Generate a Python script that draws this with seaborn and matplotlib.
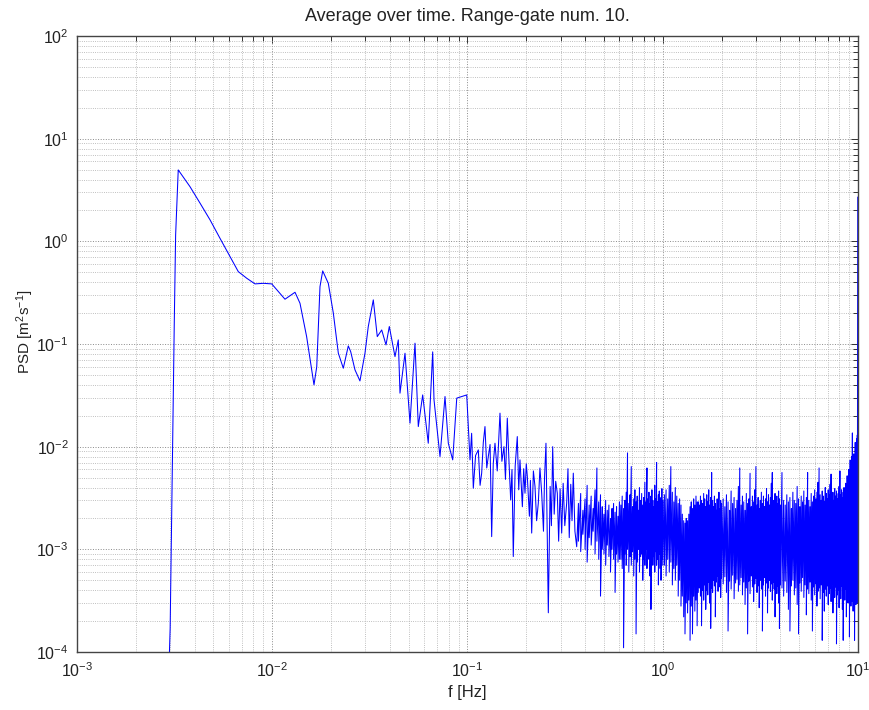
import numpy as np
import pandas as pd
import matplotlib
matplotlib.use("Agg")
import matplotlib.pyplot as plt
import seaborn as sns
from matplotlib.ticker import FixedLocator, NullFormatter

# ---- low-frequency (resolved) part of the averaged spectrum ----
freq_hz = [0.0029, 0.0030, 0.00315, 0.0032, 0.0033, 0.00379, 0.00427, 0.0048, 0.0054, 0.00608,
           0.0067, 0.0074, 0.00816, 0.0090, 0.00994, 0.01162, 0.01308, 0.01387, 0.0150, 0.01636,
           0.0169, 0.01756, 0.01813, 0.01937, 0.02055, 0.0218, 0.02312, 0.02452, 0.02522, 0.02653,
           0.02813, 0.02985, 0.03103, 0.03293, 0.03451, 0.03636, 0.03825, 0.03977, 0.04253, 0.04422,
           0.04511, 0.04786, 0.05076, 0.05384, 0.05598, 0.05895, 0.06296, 0.06634, 0.06737, 0.07231,
           0.07671, 0.07975, 0.0840, 0.0881, 0.0934, 0.0991,
           0.1030, 0.1050, 0.1071, 0.1100, 0.1136, 0.1160, 0.1182, 0.1205, 0.1229, 0.1255,
           0.1278, 0.1305, 0.1330, 0.1355, 0.1383, 0.1420, 0.1467, 0.1500, 0.1538, 0.1565,
           0.1599, 0.1630, 0.1664, 0.1690, 0.1716, 0.1755, 0.1799, 0.1830, 0.1857, 0.1910,
           0.1940, 0.1970, 0.2000, 0.2025, 0.2075, 0.2100, 0.2132, 0.2175, 0.2217, 0.2260,
           0.2305, 0.2350, 0.2399, 0.2450, 0.2480, 0.2523, 0.2594, 0.2650, 0.2690, 0.2731,
           0.2780, 0.2830, 0.2884, 0.2930, 0.2980, 0.3037, 0.3090, 0.3150, 0.3221, 0.3270,
           0.3320, 0.3380, 0.3430, 0.3482, 0.3550, 0.3625]
psd_m2s = [2e-5, 1.7e-4, 0.165, 1.15, 4.96, 3.41, 2.35, 1.62, 1.07, 0.71,
           0.507, 0.437, 0.385, 0.39, 0.385, 0.273, 0.319, 0.2495, 0.118, 0.040,
           0.060, 0.362, 0.515, 0.39, 0.20, 0.0813, 0.0581, 0.0958, 0.0843, 0.056,
           0.0437, 0.0813, 0.1477, 0.269, 0.118, 0.137, 0.098, 0.148, 0.0754, 0.1096,
           0.0332, 0.0813, 0.01694, 0.1018, 0.0157, 0.0319, 0.0108, 0.0838, 0.0286, 0.00801,
           0.0308, 0.0108, 0.00744, 0.0297, 0.0308, 0.0319,
           0.00744, 0.0135, 0.00394, 0.0082, 0.0093, 0.0042, 0.00552, 0.0110, 0.0157, 0.0062,
           0.00801, 0.0105, 0.00133, 0.0068, 0.0108, 0.0058, 0.0212, 0.0072, 0.0100, 0.0048,
           0.01895, 0.0074, 0.00303, 0.0060, 0.000851, 0.0065, 0.01254, 0.0038, 0.00744, 0.0026,
           0.0061, 0.00352, 0.0068, 0.00512, 0.0021, 0.0047, 0.00144, 0.0058, 0.00409, 0.0019,
           0.00282, 0.0062, 0.00352, 0.0015, 0.0049, 0.0108, 0.000241, 0.0041, 0.0017, 0.0100,
           0.0022, 0.0046, 0.00352, 0.0012, 0.0039, 0.00144, 0.0044, 0.0017, 0.00282, 0.0061,
           0.0013, 0.0043, 0.0019, 0.00552, 0.0015, 0.00106]

# ---- high-frequency noisy band: frequency, local maximum, local minimum (units of 1e-4 m^2 s^-1) ----
band_freq_hz = [0.37, 0.38, 0.39, 0.40, 0.41, 0.42, 0.43, 0.44, 0.45, 0.46, 0.47, 0.48, 0.49, 0.50, 0.51,
                0.52, 0.53, 0.54, 0.55, 0.56, 0.57, 0.58, 0.59, 0.60,
                0.61, 0.62, 0.63, 0.64, 0.65, 0.66, 0.67, 0.68, 0.69, 0.70, 0.71, 0.72, 0.73, 0.74, 0.75,
                0.76, 0.77, 0.78, 0.79, 0.80, 0.81, 0.82, 0.83, 0.84, 0.85, 0.86, 0.87, 0.88, 0.89, 0.90,
                0.91, 0.92, 0.93, 0.94, 0.95, 0.96, 0.97, 0.98, 0.99, 1.00,
                1.02, 1.04, 1.06, 1.08, 1.10, 1.12, 1.14, 1.16, 1.18, 1.20, 1.22, 1.24, 1.26, 1.28, 1.30,
                1.32, 1.34, 1.36, 1.38, 1.40, 1.42, 1.44, 1.46, 1.48, 1.50, 1.52, 1.54, 1.56, 1.58, 1.60,
                1.62, 1.64, 1.66, 1.68, 1.70, 1.72, 1.74, 1.76, 1.78, 1.80, 1.82, 1.84, 1.86, 1.88, 1.90,
                1.92, 1.94, 1.96, 1.98, 2.00,
                2.04, 2.08, 2.12, 2.16, 2.20, 2.24, 2.28, 2.32, 2.36, 2.40, 2.44, 2.48, 2.52, 2.56, 2.60,
                2.64, 2.68, 2.72, 2.76, 2.80, 2.84, 2.88, 2.92, 2.96, 3.00, 3.04, 3.08, 3.12, 3.16, 3.20,
                3.24, 3.28, 3.32, 3.36, 3.40, 3.44, 3.48, 3.52, 3.56, 3.60, 3.64, 3.68, 3.72, 3.76, 3.80,
                3.84, 3.88, 3.92, 3.96, 4.00,
                4.08, 4.16, 4.24, 4.32, 4.40, 4.48, 4.56, 4.64, 4.72, 4.80, 4.88, 4.96, 5.04, 5.12, 5.20,
                5.28, 5.36, 5.44, 5.52, 5.60, 5.68, 5.76, 5.84, 5.92, 6.00, 6.08, 6.16, 6.24, 6.32, 6.40,
                6.48, 6.56, 6.64, 6.72, 6.80, 6.88, 6.96, 7.04, 7.12, 7.20, 7.28, 7.36, 7.44, 7.52, 7.60,
                7.68, 7.76, 7.84, 7.92, 8.00, 8.08, 8.16, 8.24, 8.32, 8.40, 8.48, 8.56, 8.64, 8.72, 8.80,
                8.88, 8.96, 9.04, 9.12, 9.20, 9.28, 9.36, 9.44, 9.52, 9.60, 9.68, 9.76, 9.84, 9.92]
band_hi_e4 = [28, 35, 24, 31, 42, 27, 33, 25, 38, 62, 29, 34, 26, 22, 30, 24, 27, 20, 25, 28, 23, 26, 21, 29,
              27, 33, 25, 30, 36, 87, 28, 34, 64, 26, 31, 38, 29, 33, 24, 40, 30, 35, 27, 32, 45, 29, 62, 31,
              36, 28, 33, 38, 30, 26, 42, 31, 70, 29, 34, 37, 28, 32, 39, 30,
              34, 38, 31, 42, 64, 36, 29, 40, 33, 28, 31, 27, 22, 19, 18, 20, 19, 22, 26, 29, 25, 31, 27, 33,
              29, 29, 27, 33, 30, 28, 35, 31, 26, 34, 29, 38, 27, 32, 56, 30, 26, 33, 28, 24, 31, 27, 36, 25,
              30, 28,
              31, 26, 34, 29, 24, 37, 28, 32, 25, 30, 41, 62, 27, 33, 29, 24, 35, 28, 31, 55, 26, 33, 29, 38,
              64, 27, 32, 25, 30, 36, 28, 33, 26, 31, 39, 29, 34, 27, 32, 44, 56, 30, 26, 35, 29, 33, 28, 37,
              31, 27,
              56, 30, 27, 34, 29, 32, 25, 36, 30, 28, 41, 31, 26, 33, 29, 37, 27, 32, 56, 30, 26, 35, 29, 33,
              38, 31, 36, 45, 62, 34, 30, 37, 33, 29, 40, 35, 31, 38, 34, 43, 54, 32, 36, 30, 39, 33, 37, 31,
              35, 41, 58, 34, 38, 32, 36, 40, 35, 44, 38, 52, 47, 60, 55, 74, 66, 80, 136, 70, 85, 78, 110, 88,
              120, 130]
band_lo_e4 = [12, 9.5, 14, 10, 7.5, 13, 11, 15, 9, 12, 8, 3.5, 10, 9, 7, 11, 8.5, 6, 10, 8, 3.8, 9, 7.5, 8,
              8, 6.5, 1.1, 9, 7, 10, 6, 8.5, 7, 9.5, 5.5, 8, 1.5, 7.5, 10, 6, 8.5, 9, 5, 8, 7, 10, 6.5, 9,
              8, 5.5, 2.6, 9, 7, 8.5, 6, 9.5, 7, 8, 4.5, 9, 6.5, 5, 8, 7,
              7, 5.5, 8, 6, 7.5, 4.5, 6.5, 5, 7, 3.5, 5, 2.8, 3.5, 2.2, 1.5, 3, 2.4, 3.2, 1.3, 2.8, 1.5, 3.5,
              2.5, 3.2, 1.8, 3.8, 4.2, 3.5, 1.8, 4, 3.2, 4.5, 2.6, 4, 3.6, 4.8, 3, 1.7, 4.2, 3.8, 5, 4.4,
              2.2, 4.8, 5.5, 3.9, 5, 4.3, 3.4, 5.2,
              4.6, 5.4, 3.8, 1.6, 4.9, 4.1, 5.6, 3.3, 4.7, 5.1, 3.9, 4.5, 5.3, 3.6, 4.8, 2.9, 4.2, 1.5, 4.9,
              3.7, 5.5, 4.3, 3.1, 4.6, 5.2, 3.8, 4.4, 2.7, 5, 4.1, 1.6, 4.5, 5.3, 3.5, 4.7, 2.4, 4.2, 5, 3.9,
              4.6, 3.2, 4.8, 4.1, 2.2, 5.1, 3.7, 4.4, 3, 1.7, 4.5,
              4.2, 3.5, 4.9, 3.8, 2.6, 1.6, 4.4, 5, 3.6, 4.2, 2.9, 1.5, 4.7, 3.9, 5.3, 3.4, 4.5, 2.3, 4.1,
              3.7, 4.8, 3.2, 1.6, 4.3, 3.6, 4.6, 2.8, 3.9, 4.2, 3.3, 4.5, 1.3, 3.8, 2.5, 4.1, 3.5, 4.4, 2.9,
              3.7, 4.2, 3.1, 4.6, 2.4, 3.9, 3.4, 4.3, 1.2, 3.6, 4, 2.7, 3.8, 3.3, 4.4, 2.6, 1.3, 3.7, 3.2,
              4.1, 2.2, 3.5, 3, 3.8, 1.4, 3.3, 2.8, 3.6, 3.1, 2.5, 3.4, 1.3, 3.2, 2.9, 3.5, 3]

# ---- final point at the Nyquist frequency ----
tail_freq_hz = [9.97]
tail_psd_m2s = [2.7]

# ---- axes ticks and texts ----
x_major_ticks = [1e-3, 1e-2, 1e-1, 1e0, 1e1]
y_major_ticks = [1e-4, 1e-3, 1e-2, 1e-1, 1e0, 1e1, 1e2]
title_text = "Average over time. Range-gate num. 10."
xlabel_text = "f [Hz]"
ylabel_text = r"PSD [m$^{2}$s$^{-1}$]"

assert len(freq_hz) == len(psd_m2s)
assert len(band_freq_hz) == len(band_hi_e4) == len(band_lo_e4)

f_all = list(freq_hz)
p_all = list(psd_m2s)
for f, h, l in zip(band_freq_hz, band_hi_e4, band_lo_e4):
    f_all += [f, f]
    p_all += [h * 1e-4, l * 1e-4]
f_all += tail_freq_hz
p_all += tail_psd_m2s
df = pd.DataFrame({"f": f_all, "psd": p_all})


def minor_ticks(majors):
    return [m * d for d in majors[:-1] for m in range(2, 10)]


sns.set_style("white")
plt.rcParams["font.family"] = ["Liberation Sans", "DejaVu Sans"]
plt.rcParams["mathtext.default"] = "regular"
text_col = "#222222"

fig = plt.figure(figsize=(8.7, 7.1), dpi=100)
ax = fig.add_axes([0.0885, 0.0817, 0.8977, 0.8676])
sns.lineplot(data=df, x="f", y="psd", estimator=None, sort=False,
             color="#0000ff", linewidth=0.75, ax=ax)
ax.set_xscale("log")
ax.set_yscale("log")
ax.set_xlim(x_major_ticks[0], x_major_ticks[-1])
ax.set_ylim(y_major_ticks[0], y_major_ticks[-1])

ax.xaxis.set_major_locator(FixedLocator(x_major_ticks))
ax.yaxis.set_major_locator(FixedLocator(y_major_ticks))
ax.xaxis.set_minor_locator(FixedLocator(minor_ticks(x_major_ticks)))
ax.yaxis.set_minor_locator(FixedLocator(minor_ticks(y_major_ticks)))
ax.xaxis.set_minor_formatter(NullFormatter())
ax.yaxis.set_minor_formatter(NullFormatter())

ax.set_axisbelow(True)
ax.grid(True, which="major", linestyle=":", color="#8a8a8a", linewidth=0.7)
ax.grid(True, which="minor", linestyle=":", color="#ababab", linewidth=0.6)

ax.tick_params(which="both", direction="in", top=True, right=True,
               color="#333333", width=0.7, labelsize=11.5, labelcolor=text_col)
ax.tick_params(which="major", length=5)
ax.tick_params(which="minor", length=3.5)
ax.tick_params(axis="x", which="major", pad=7)
ax.tick_params(axis="y", which="major", pad=6)
for s in ax.spines.values():
    s.set_color("#444444")
    s.set_linewidth(1.0)

ax.set_title(title_text, fontsize=13, color=text_col, pad=11)
ax.set_xlabel(xlabel_text, fontsize=12, color=text_col, labelpad=3)
ax.set_ylabel(ylabel_text, fontsize=11, color=text_col)
ax.yaxis.set_label_coords(-0.052, 0.52)

fig.savefig("out.png", dpi=100)
